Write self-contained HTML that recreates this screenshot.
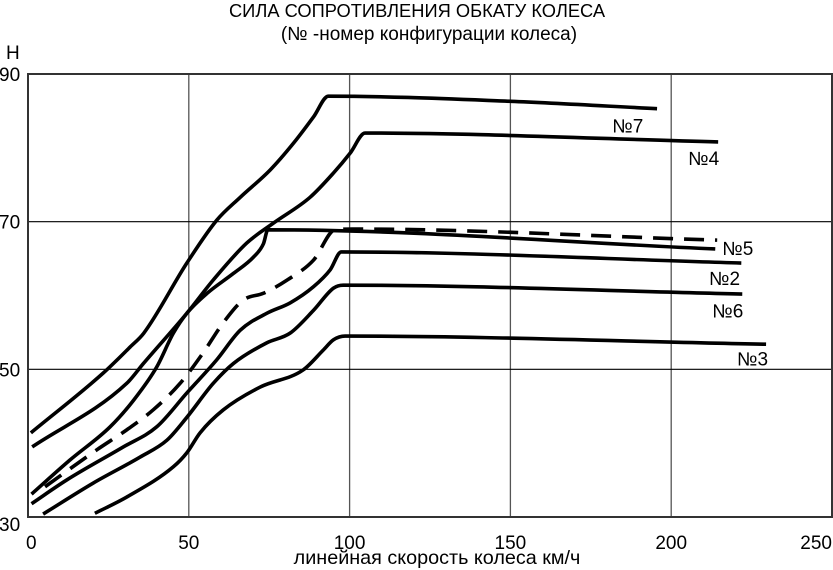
<!DOCTYPE html>
<html><head><meta charset="utf-8"><style>
body{margin:0;background:#fff;width:833px;height:570px;overflow:hidden}
svg{display:block}
text{font-family:"Liberation Sans","DejaVu Sans",sans-serif;fill:#000}
</style></head><body>
<svg id="chart" width="833" height="570" viewBox="0 0 833 570">
<text x="417" y="17" style="font-size:18.3px" text-anchor="middle">СИЛА СОПРОТИВЛЕНИЯ ОБКАТУ КОЛЕСА</text>
<text x="429" y="40" style="font-size:19px" text-anchor="middle">(№ -номер конфигурации колеса)</text>
<text x="6" y="59" style="font-size:19px">Н</text>
<text x="437" y="564" style="font-size:19.8px" text-anchor="middle">линейная скорость колеса км/ч</text>
<g id="grid"></g><g id="ticks"></g><g id="series"></g><g id="labels"></g>
</svg>
<script>
const xTicks=[0,50,100,150,200,250];
const yTicks=[30,50,70,90];
const s7x=[0.9,23.4,31.7,36,49.4,58.7,66,75.3,82.5,88.8,93.4,150,195.6];
const s7y=[41.4,49.5,53,54.9,64.4,70.2,73.3,77,80.6,84.2,87,86.3,85.3];
const s4x=[1.3,30.7,35.9,49.4,57.6,68,76.3,87.7,95,100.2,104.8,214.6];
const s4y=[39.5,48.1,50.8,57.6,62.1,67.1,69.8,73.3,76.6,79.3,82,80.8];
const s1x=[1.1,13,25.5,32.8,40,45.2,49.4,55.7,63.9,70.1,73.2,74.6,213.7];
const s1y=[33.1,37.7,42.2,45.8,50.3,54.9,57.6,60.3,63,65.2,67,68.9,66.3];
const s5x=[5.3,21.4,30.7,38.9,47.3,54.4,60.7,67,73.2,80.6,88.8,95.5,101,214.3];
const s5y=[34.1,39.1,41.8,44.5,48.1,52.2,56.3,59.4,60.3,62.1,64.8,68.9,69,67.5];
const s2x=[1.1,12,29.7,40,49.4,58.7,66,74.3,81.5,88.8,94,97.4,221.8];
const s2y=[31.8,35,39.5,42.2,46.8,51.3,55.3,57.6,59,61.2,63.5,65.9,64.4];
const s6x=[4.7,20.3,34.8,43.2,49.4,57.6,63.9,74.3,81.5,88.8,95,98,222.1];
const s6y=[30.4,34.6,38.1,40.4,43.5,48.1,50.8,53.6,54.9,58,61,61.4,60.2];
const s3x=[20.8,30.7,45.2,49.4,53.5,60.7,72.2,85.5,91.8,95,98.6,229.5];
const s3y=[30.5,32.7,36.8,38.7,41.4,44.5,47.6,49.9,52.6,54,54.5,53.4];
const labelNames=["№7","№4","№5","№2","№6","№3"];
const labelX=[181.7,205.3,215.9,211.8,212.8,220.5];
const labelY=[82.1,77.7,65.5,61.4,57,50.5];

const NS="http://www.w3.org/2000/svg";
const X=v=>28+v*(832-28)/250;
const Y=v=>517-(v-30)*(517-74)/60;
function mk(tag,attrs,parent){const e=document.createElementNS(NS,tag);for(const k in attrs)e.setAttribute(k,attrs[k]);parent.appendChild(e);return e;}
const grid=document.getElementById('grid'),ticks=document.getElementById('ticks'),ser=document.getElementById('series'),lab=document.getElementById('labels');
xTicks.forEach((t,i)=>{if(i>0&&i<xTicks.length-1){const l=mk('line',{x1:X(t),x2:X(t),y1:Y(90),y2:Y(30),stroke:'#555','stroke-width':1.3},grid);

}
const tx=mk('text',{x:X(t)+(i==0?-2:0),y:549,style:'font-size:19px','text-anchor':i==0?'start':(i==xTicks.length-1?'end':'middle')},ticks);tx.textContent=t;

});
yTicks.forEach((t,i)=>{if(i>0&&i<yTicks.length-1){const l=mk('line',{x1:X(0),x2:X(250),y1:Y(t),y2:Y(t),stroke:'#000','stroke-width':1.2},grid);

}
const tx=mk('text',{x:-1,y:Y(t)+(i==0?14:7),style:'font-size:19px'},ticks);tx.textContent=t;

});
const fr=mk('rect',{x:X(0),y:Y(90),width:X(250)-X(0),height:Y(30)-Y(90),fill:'none',stroke:'#333','stroke-width':2},grid);


function pathFor(xs,ys){const n=xs.length;const px=xs.map(X),py=ys.map(Y);
const d=[],m=new Array(n);for(let i=0;i<n-1;i++)d.push((py[i+1]-py[i])/(px[i+1]-px[i]));
m[0]=d[0];m[n-1]=d[n-2];for(let i=1;i<n-1;i++){m[i]=(d[i-1]*d[i]<=0)?0:(d[i-1]+d[i])/2;}
for(let i=0;i<n-1;i++){if(d[i]===0){m[i]=0;m[i+1]=0;continue;}const a=m[i]/d[i],b=m[i+1]/d[i],s=a*a+b*b;if(s>9){const t=3/Math.sqrt(s);m[i]=t*a*d[i];m[i+1]=t*b*d[i];}}
let p=`M${px[0]},${py[0]}`;
for(let i=0;i<n-1;i++){const h=(px[i+1]-px[i])/3;p+=` C${px[i]+h},${py[i]+m[i]*h} ${px[i+1]-h},${py[i+1]-m[i+1]*h} ${px[i+1]},${py[i+1]}`;}
return p;}
const all=[[s7x,s7y,'series-7',0],[s4x,s4y,'series-4',0],[s1x,s1y,'series-1',0],[s5x,s5y,'series-5',1],[s2x,s2y,'series-2',0],[s6x,s6y,'series-6',0],[s3x,s3y,'series-3',0]];
all.forEach(a=>{const at={d:pathFor(a[0],a[1]),fill:'none',stroke:'#000','stroke-width':3.6,'stroke-linejoin':'round'};if(a[3])at['stroke-dasharray']='20 11';
const e=mk('path',at,ser);

});
labelNames.forEach((n,i)=>{const t=mk('text',{x:X(labelX[i]),y:Y(labelY[i]),style:'font-size:19px'},lab);t.textContent=n;

});
</script>
</body></html>
